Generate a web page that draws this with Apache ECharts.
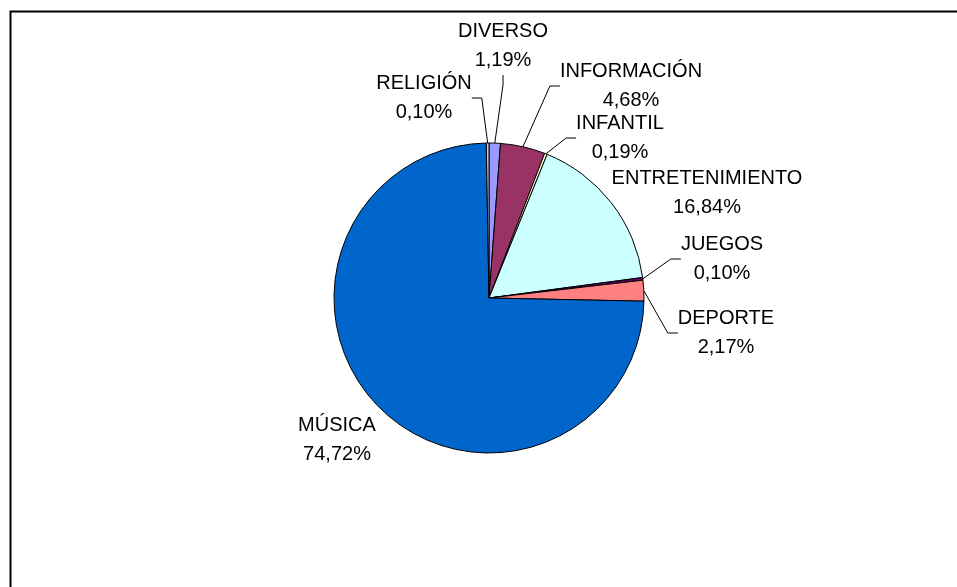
<!DOCTYPE html>
<html>
<head>
<meta charset="utf-8">
<title>Distribución por género</title>
<script src="https://cdn.jsdelivr.net/npm/echarts@6/dist/echarts.min.js"></script>
<style>
  html, body { margin: 0; padding: 0; background: #fff; }
  #chart { width: 957px; height: 587px; }
</style>
</head>
<body>
<div id="chart"></div>
<script>
// categorias en el orden de la hoja (empieza a las 12 y gira en sentido horario)
var categorias = ['DIVERSO', 'INFORMACIÓN', 'INFANTIL', 'ENTRETENIMIENTO', 'JUEGOS', 'DEPORTE', 'MÚSICA', 'RELIGIÓN'];
var porcentajes = [1.19, 4.68, 0.19, 16.84, 0.10, 2.17, 74.72, 0.10];

// paleta tipo Excel
var colores = ['#9999FF', '#993366', '#FFFFCC', '#CCFFFF', '#660066', '#FF8080', '#0066CC', '#CCCCFF'];

// centro de cada etiqueta (px)
var posEtiquetas = [
    [503, 46], [631, 86], [620, 138], [707, 193],
    [722, 259], [726, 333], [337, 440], [424, 98]
];
var sinLinea = ['ENTRETENIMIENTO', 'MÚSICA'];

var myChart = echarts.init(document.getElementById('chart'));

var datos = [];
for (var i = 0; i < categorias.length; i++) {
    var item = {
        name: categorias[i],
        value: porcentajes[i],
        itemStyle: { color: colores[i] }
    };
    if (sinLinea.indexOf(categorias[i]) >= 0) {
        item.labelLine = { show: false };
    }
    datos.push(item);
}

var options = {
    backgroundColor: '#fff',
    animation: false,
    graphic: [{
        type: 'rect',
        left: 8,
        top: 9,
        shape: { width: 990, height: 620 },
        style: { fill: 'none', stroke: '#000', lineWidth: 2 },
        silent: true
    }],
    series: [
        {
            type: 'pie',
            radius: 155,
            center: [489, 298],
            startAngle: 90,
            clockwise: true,
            avoidLabelOverlap: false,
            minAngle: 1,
            emphasis: { disabled: true },
            itemStyle: { borderColor: '#000', borderWidth: 1 },
            label: {
                show: true,
                position: 'outside',
                color: '#000',
                fontFamily: 'Liberation Sans, Arial, sans-serif',
                fontSize: 20,
                lineHeight: 29,
                align: 'center',
                formatter: function (p) {
                    return p.name + '\n' + p.value.toFixed(2).replace('.', ',') + '%';
                }
            },
            labelLine: {
                show: true,
                length: 10,
                length2: 10,
                lineStyle: { color: '#000', width: 1 }
            },
            labelLayout: function (params) {
                var p = posEtiquetas[params.dataIndex];
                return { x: p[0], y: p[1], align: 'center', verticalAlign: 'middle' };
            },
            data: datos
        }
    ]
};

myChart.setOption(options);

window.onresize = function () {
    myChart.resize();
};
</script>
</body>
</html>
